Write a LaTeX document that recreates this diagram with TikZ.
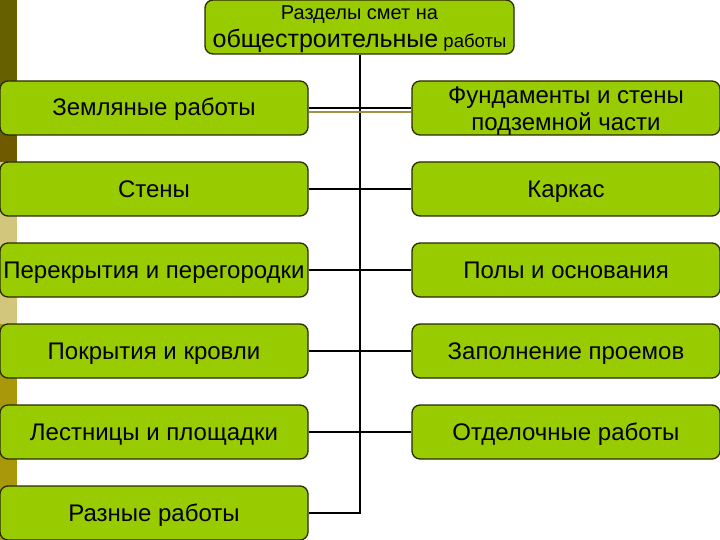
\documentclass[tikz,border=0pt]{standalone}
\usepackage{fontspec}
\setmainfont{Liberation Sans}
\definecolor{boxgreen}{HTML}{99CC00}
\definecolor{boxedge}{HTML}{2A2A00}
\definecolor{stripeA}{HTML}{676000}
\definecolor{stripeB}{HTML}{705A00}
\definecolor{stripeC}{HTML}{D2C67C}
\definecolor{stripeD}{HTML}{A8980A}
\definecolor{oliveline}{HTML}{A09048}
\begin{document}
\begin{tikzpicture}[x=1pt,y=-1pt,
  box/.style={draw=boxedge,line width=1.3pt,fill=boxgreen,rounded corners=8pt,
    minimum width=308pt,minimum height=54pt,inner sep=0pt,align=center,
    text height=20pt,text depth=4pt,
    font=\fontsize{24}{27}\selectfont,text=black},
  boxtext/.style={inner sep=0pt,align=center,font=\fontsize{24}{27}\selectfont,text=black},
  conn/.style={line width=2.2pt,black}]
\useasboundingbox (0,0) rectangle (720,540);
\fill[white] (0,0) rectangle (720,540);
% left stripe
\fill[stripeA] (0,0) rectangle (17,135);
\fill[stripeB] (0,135) rectangle (17,162);
\fill[stripeC] (0,162) rectangle (17,324);
\fill[stripeD] (0,324) rectangle (17,540);
% nodes
\node[box,minimum width=309pt] (top) at (359.5,27) {};
\node[font=\fontsize{20}{22}\selectfont] (toptxt1) at (359.5,15) {Разделы смет на};
\node[font=\fontsize{18.5}{22}\selectfont] (toptxt2) at (359.5,41) {{\fontsize{25}{28}\selectfont общестроительные} работы};
\node[box] (L1) at (154,108) {Земляные работы};
\node[box] (L2) at (154,189) {Стены};
\node[box] (L3) at (154,270) {Перекрытия и перегородки};
\node[box] (L4) at (154,351) {Покрытия и кровли};
\node[box] (L5) at (154,432) {Лестницы и площадки};
\node[box] (L6) at (154,513) {Разные работы};
\node[box] (R1) at (566,108) {};
\node[boxtext] (R1txt) at (566,111) {Фундаменты и стены\\подземной части};
\node[box] (R2) at (566,189) {Каркас};
\node[box] (R3) at (566,270) {Полы и основания};
\node[box] (R4) at (566,351) {Заполнение проемов};
\node[box] (R5) at (566,432) {Отделочные работы};
% connectors
\draw[conn] (top.south -| 360,0) |- (L6.east);
\draw[conn] (L1.east) -- (R1.west);
\draw[line width=2pt,oliveline] ([yshift=-4.5pt]L1.east) -- ([yshift=-4.5pt]R1.west);
\draw[conn] (L2.east) -- (R2.west);
\draw[conn] (L3.east) -- (R3.west);
\draw[conn] (L4.east) -- (R4.west);
\draw[conn] (L5.east) -- (R5.west);
\end{tikzpicture}
\end{document}
